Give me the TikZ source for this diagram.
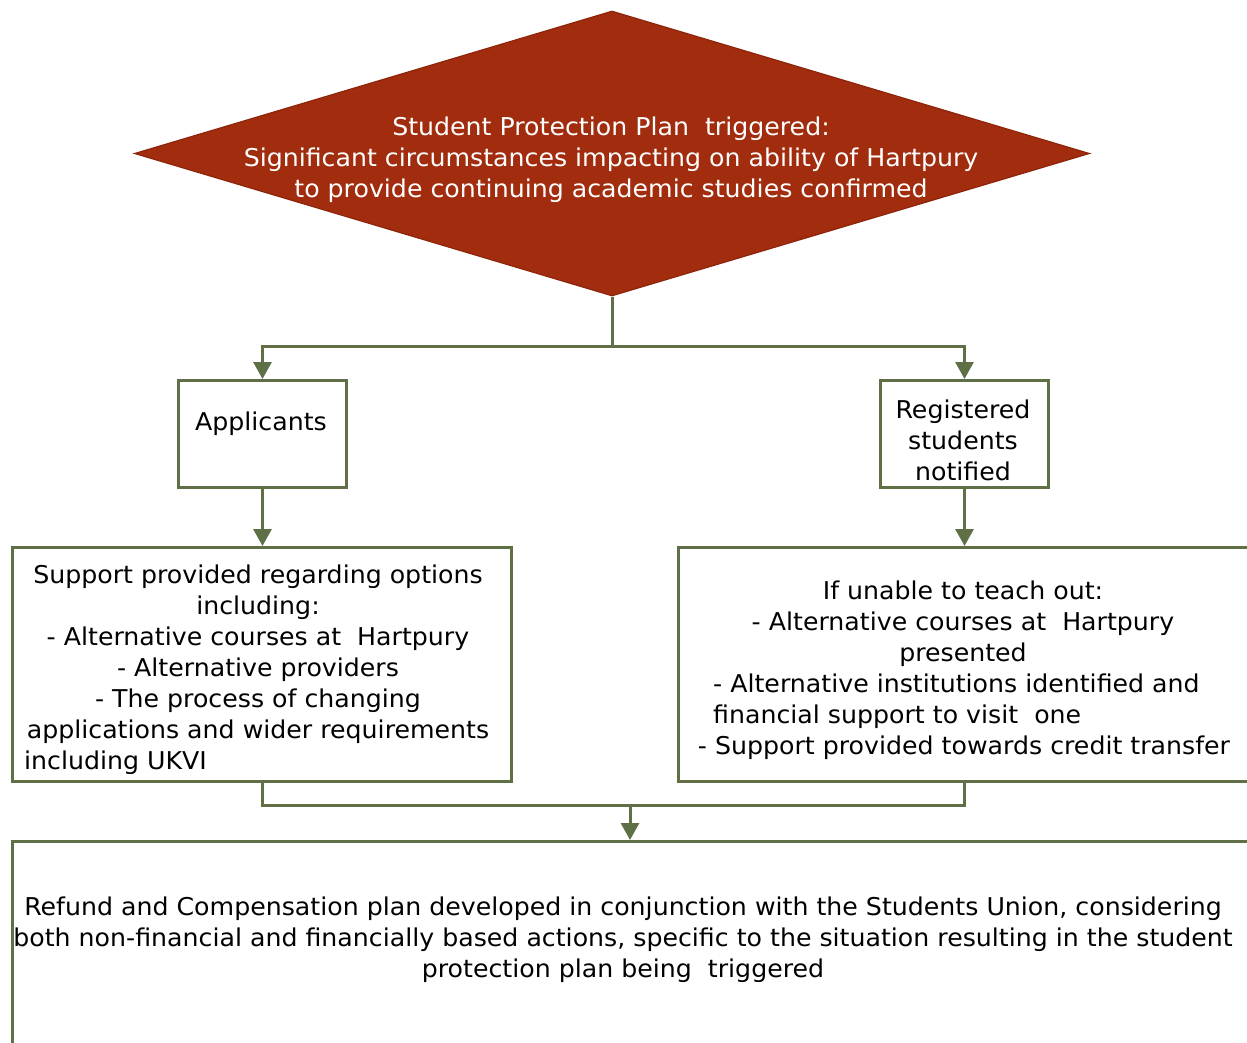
\documentclass[tikz,border=0pt]{standalone}
\usepackage{fontspec}
\setmainfont[FakeStretch=1.03]{DejaVu Sans}
\usetikzlibrary{arrows.meta,shapes.geometric}
\definecolor{dred}{HTML}{A12C0E}
\definecolor{dredline}{HTML}{8E250B}
\definecolor{olive}{HTML}{5F7046}
\begin{document}
\begin{tikzpicture}[x=1pt,y=-1pt,
  font=\fontsize{24.5}{31}\selectfont,
  conn/.style={draw=olive, line width=3pt},
  arr/.style={conn, -{Triangle[length=17pt,width=18pt]}},
  box/.style={draw=olive, line width=3pt, fill=white, inner sep=0pt, anchor=north west},
  txt/.style={inner sep=0pt, align=center, text=black}]
\useasboundingbox (0,0) rectangle (1247,1043);
\clip (0,0) rectangle (1247,1043);
% decision
\node[diamond, fill=dred, draw=dredline, line width=1.2pt, inner sep=0pt,
      minimum width=955pt, minimum height=285pt] (trig) at (612,153.5) {};
\node[txt, text=white] (trigtxt) at (611,160) {Student Protection Plan\ \ triggered:\\Significant circumstances impacting on ability of Hartpury\\to provide continuing academic studies confirmed};
% boxes
\node[box, minimum width=168pt, minimum height=107pt] (app) at (177,379) {};
\node[box, minimum width=168pt, minimum height=107pt] (reg) at (879,379) {};
\node[box, minimum width=499pt, minimum height=234pt] (sup) at (11,546) {};
\node[box, minimum width=590pt, minimum height=234pt] (rb) at (677,546) {};
\node[box, minimum width=1260pt, minimum height=240pt] (bot) at (11,840) {};
% texts
\node[txt] (apptxt) at (261,424) {Applicants};
\node[txt] (regtxt) at (963,440) {Registered\\students\\notified};
\node[txt] (suptxt) at (258,654.5) {Support provided regarding options\\including:\\- Alternative courses at\ \ Hartpury\\- Alternative providers\\- The process of changing\\applications and wider requirements};
\node[txt, anchor=west] (suptxt2) at (24,763) {including UKVI};
\node[txt] (rbtxt1) at (963,624) {If unable to teach out:\\- Alternative courses at\ \ Hartpury\\presented};
\node[txt, align=left, anchor=west] (rbtxt2) at (713,701.5) {- Alternative institutions identified and\\financial support to visit\ \ one};
\node[txt] (rbtxt3) at (964,748) {- Support provided towards credit transfer};
\node[txt] (bottxt) at (623,940) {Refund and Compensation plan developed in conjunction with the Students Union, considering\\both non-financial and financially based actions, specific to the situation resulting in the student\\protection plan being\ \ triggered};
% connectors
\coordinate (split) at (612,346);
\coordinate (merge) at (630,805);
\draw[conn] (trig.south) -- (split);
\draw[arr] (split) -| (app.north);
\draw[arr] (split) -| (reg.north);
\draw[arr] (app.south) -- (app.south |- sup.north);
\draw[arr] (reg.south) -- (reg.south |- rb.north);
\draw[conn] (sup.south) |- (merge) -| (reg.south |- rb.south);
\draw[arr] (merge) -- (merge |- bot.north);
\end{tikzpicture}
\end{document}
